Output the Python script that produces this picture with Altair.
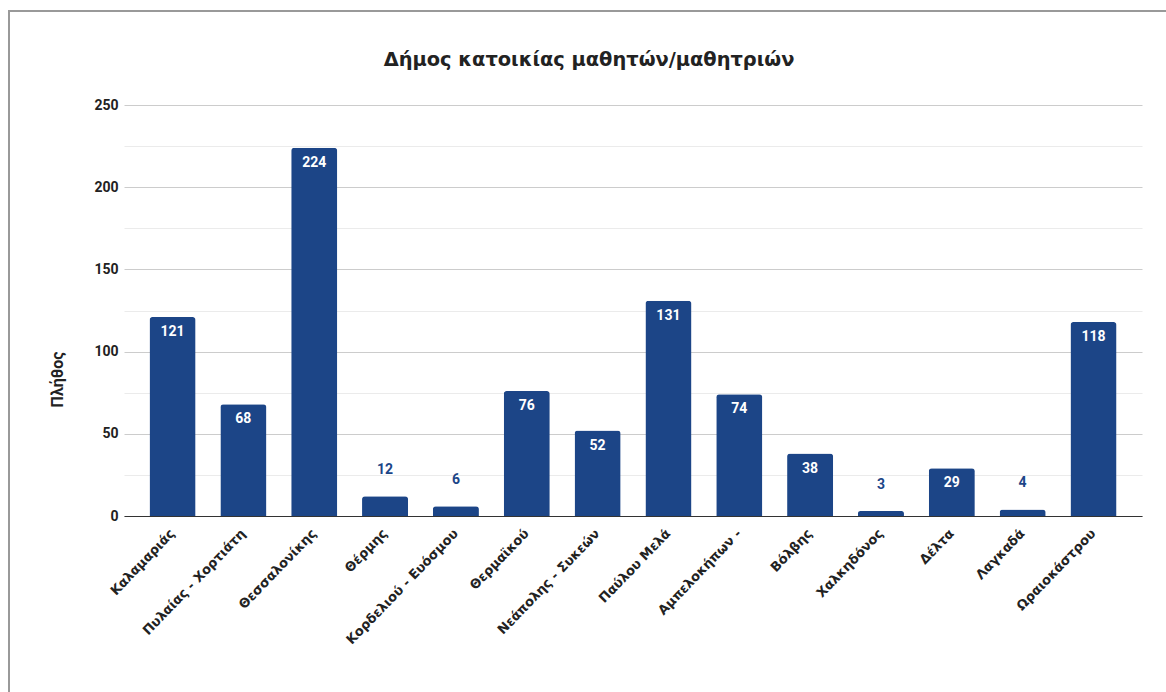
import altair as alt
import pandas as pd

categories = [
    "Καλαμαριάς", "Πυλαίας - Χορτιάτη", "Θεσσαλονίκης", "Θέρμης",
    "Κορδελιού - Ευόσμου", "Θερμαϊκού", "Νεάπολης - Συκεών", "Παύλου Μελά",
    "Αμπελοκήπων -", "Βόλβης", "Χαλκηδόνος", "Δέλτα", "Λαγκαδά", "Ωραιοκάστρου",
]
values = [121, 68, 224, 12, 6, 76, 52, 131, 74, 38, 3, 29, 4, 118]
y_ticks = [0, 25, 50, 75, 100, 125, 150, 175, 200, 225, 250]

df = pd.DataFrame({"dimos": categories, "plithos": values})
BAR = "#1c4587"
TXT = "#222222"

x = alt.X(
    "dimos:N", sort=None, title=None,
    scale=alt.Scale(paddingInner=0.35, paddingOuter=0.36),
    axis=alt.Axis(
        labelAngle=-46, labelAlign="right", labelBaseline="middle", labelPadding=15,
        ticks=False, grid=False, domainColor="#333333", domainWidth=1,
        labelFont="DejaVu Sans", labelFontWeight="bold", labelFontSize=13,
        labelColor=TXT, labelLimit=400,
    ),
)
y = alt.Y(
    "plithos:Q", title="Πλήθος",
    scale=alt.Scale(domain=[0, 250], nice=False),
    axis=alt.Axis(
        values=y_ticks,
        labelExpr="datum.value % 50 === 0 ? datum.label : ''",
        gridColor={"condition": {"test": "datum.value % 50 === 0", "value": "#cccccc"}, "value": "#ebebeb"},
        domain=False, ticks=False, labelPadding=6,
        labelFont="Roboto", labelFontWeight="bold", labelFontSize=14, labelColor=TXT,
        titleFont="Roboto", titleFontWeight="bold", titleFontSize=16, titleColor=TXT,
        titleAngle=-90, titleX=-67, titleY=274, titleAlign="center", titleBaseline="middle",
    ),
)

base = alt.Chart(df)
bars = base.mark_bar(color=BAR, cornerRadiusTopLeft=3, cornerRadiusTopRight=3).encode(x=x, y=y)
text_in = base.transform_filter("datum.plithos >= 20").mark_text(
    dy=15, color="white", font="Roboto", fontWeight="bold", fontSize=14, baseline="middle"
).encode(x=x, y=y, text="plithos:Q")
text_out = base.transform_filter("datum.plithos < 20").mark_text(
    dy=-26, color=BAR, font="Roboto", fontWeight="bold", fontSize=14, baseline="middle"
).encode(x=x, y=y, text="plithos:Q")

border = alt.Chart(alt.Data(values=[{"b": 1}])).mark_rect(
    filled=False, stroke="#999999", strokeWidth=2
).encode(x=alt.value(-115), x2=alt.value(1060), y=alt.value(-94), y2=alt.value(600))

chart = alt.layer(border, bars, text_in, text_out).properties(
    width=1018, height=411,
    title=alt.TitleParams(
        "Δήμος κατοικίας μαθητών/μαθητριών", font="DejaVu Sans", fontSize=19.4,
        fontWeight="bold", color=TXT, anchor="middle", dx=-44, offset=-75,
        baseline="alphabetic",
    ),
    autosize=alt.AutoSizeParams(type="none"),
    padding={"left": 124, "top": 105, "right": 24, "bottom": 176},
    background="white",
).configure_view(strokeWidth=0)

chart.save("out.html", embed_options={"renderer": "svg", "actions": False})
